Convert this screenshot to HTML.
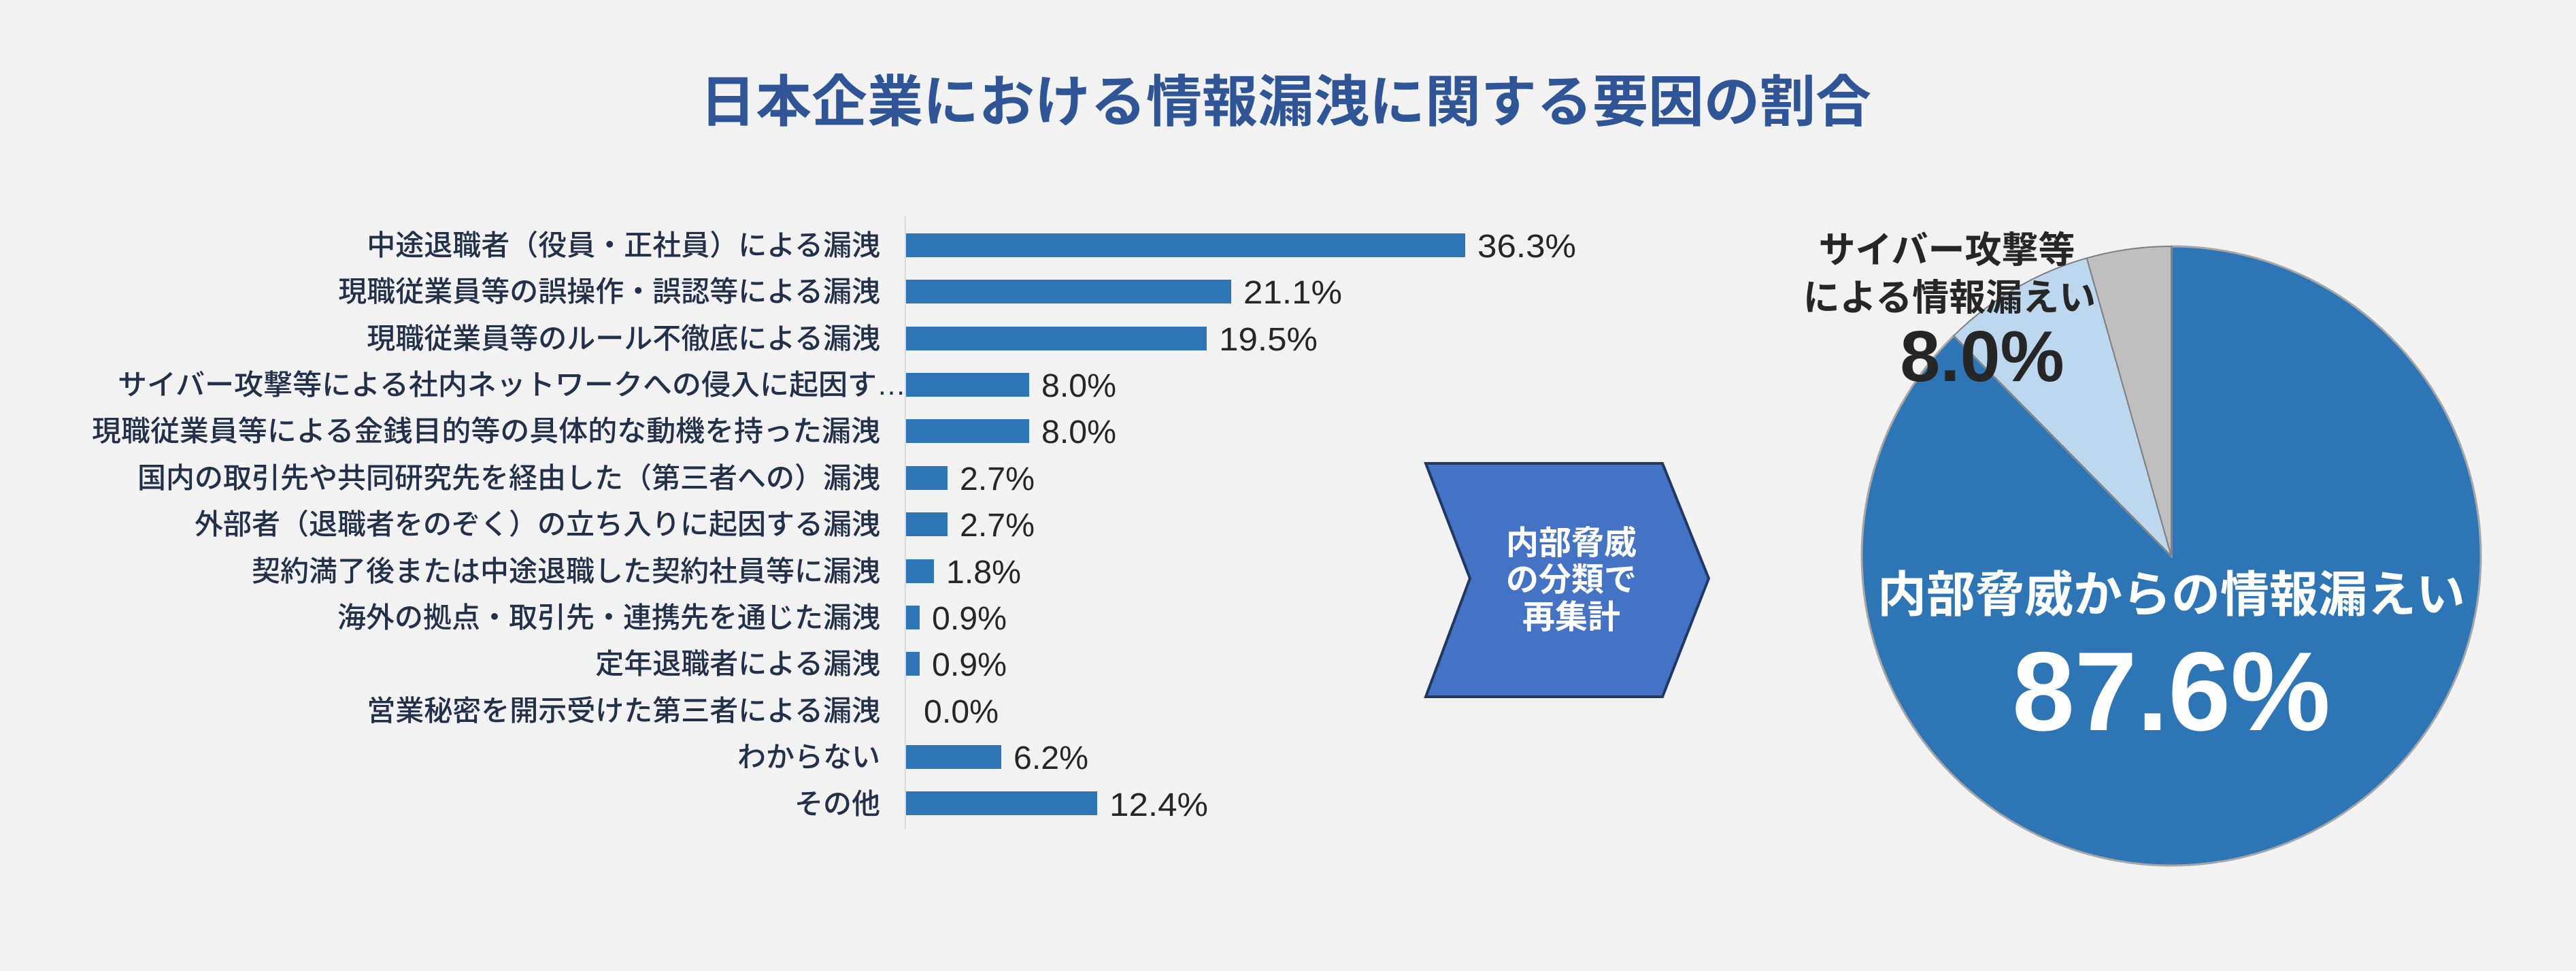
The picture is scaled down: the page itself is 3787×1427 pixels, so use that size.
<!DOCTYPE html>
<html><head><meta charset="utf-8"><style>
html,body{margin:0;padding:0;background:#F2F2F2;}
svg{display:block;}
</style></head><body>
<svg width="3787" height="1427" viewBox="0 0 3787 1427" xmlns="http://www.w3.org/2000/svg" font-family="'Liberation Sans','Noto Sans CJK JP',sans-serif">
<rect width="3787" height="1427" fill="#F2F2F2"/>
<text x="1890" y="178" text-anchor="middle" font-size="82" font-weight="bold" fill="#2F5597">日本企業における情報漏洩に関する要因の割合</text>
<line x1="1331" y1="318" x2="1331" y2="1218" stroke="#D9D9D9" stroke-width="2"/>
<g font-size="42" fill="#22304A" text-anchor="end" font-weight="500">
<text x="1294" y="375">中途退職者（役員・正社員）による漏洩</text>
<text x="1294" y="443">現職従業員等の誤操作・誤認等による漏洩</text>
<text x="1294" y="512">現職従業員等のルール不徹底による漏洩</text>
<text x="1332" y="580" textLength="1159" lengthAdjust="spacingAndGlyphs">サイバー攻撃等による社内ネットワークへの侵入に起因す…</text>
<text x="1294" y="648" textLength="1159" lengthAdjust="spacingAndGlyphs">現職従業員等による金銭目的等の具体的な動機を持った漏洩</text>
<text x="1294" y="717">国内の取引先や共同研究先を経由した（第三者への）漏洩</text>
<text x="1294" y="785">外部者（退職者をのぞく）の立ち入りに起因する漏洩</text>
<text x="1294" y="854">契約満了後または中途退職した契約社員等に漏洩</text>
<text x="1294" y="922">海外の拠点・取引先・連携先を通じた漏洩</text>
<text x="1294" y="990">定年退職者による漏洩</text>
<text x="1294" y="1059">営業秘密を開示受けた第三者による漏洩</text>
<text x="1294" y="1127">わからない</text>
<text x="1294" y="1196">その他</text>
</g>
<g fill="#2E75B6">
<rect x="1332" y="343" width="822" height="35"/>
<rect x="1332" y="411" width="478" height="35"/>
<rect x="1332" y="480" width="442" height="35"/>
<rect x="1332" y="548" width="181" height="35"/>
<rect x="1332" y="616" width="181" height="35"/>
<rect x="1332" y="685" width="61" height="35"/>
<rect x="1332" y="753" width="61" height="35"/>
<rect x="1332" y="822" width="41" height="35"/>
<rect x="1332" y="890" width="20" height="35"/>
<rect x="1332" y="958" width="20" height="35"/>
<rect x="1332" y="1095" width="140" height="35"/>
<rect x="1332" y="1163" width="281" height="35"/>
</g>
<g font-size="48" fill="#262626">
<text x="2172" y="378" textLength="145" lengthAdjust="spacingAndGlyphs">36.3%</text>
<text x="1828" y="446" textLength="145" lengthAdjust="spacingAndGlyphs">21.1%</text>
<text x="1792" y="515" textLength="145" lengthAdjust="spacingAndGlyphs">19.5%</text>
<text x="1531" y="583" textLength="110" lengthAdjust="spacingAndGlyphs">8.0%</text>
<text x="1531" y="651" textLength="110" lengthAdjust="spacingAndGlyphs">8.0%</text>
<text x="1411" y="720" textLength="110" lengthAdjust="spacingAndGlyphs">2.7%</text>
<text x="1411" y="788" textLength="110" lengthAdjust="spacingAndGlyphs">2.7%</text>
<text x="1391" y="857" textLength="110" lengthAdjust="spacingAndGlyphs">1.8%</text>
<text x="1370" y="925" textLength="110" lengthAdjust="spacingAndGlyphs">0.9%</text>
<text x="1370" y="993" textLength="110" lengthAdjust="spacingAndGlyphs">0.9%</text>
<text x="1358" y="1062" textLength="110" lengthAdjust="spacingAndGlyphs">0.0%</text>
<text x="1490" y="1130" textLength="110" lengthAdjust="spacingAndGlyphs">6.2%</text>
<text x="1631" y="1199" textLength="145" lengthAdjust="spacingAndGlyphs">12.4%</text>
</g>
<polygon points="2096,681 2444,681 2512,850 2444,1024 2096,1024 2161,850" fill="#4472C4" stroke="#1F3864" stroke-width="4"/>
<g font-size="48" fill="#FFFFFF" text-anchor="middle" font-weight="bold">
<text x="2310" y="814">内部脅威</text>
<text x="2310" y="868">の分類で</text>
<text x="2310" y="923">再集計</text>
</g>
<path d="M3192,817 L3192,362 A455,455 0 1 1 2872.3,493.3 Z" fill="#2E75B6" stroke="#A6A6A6" stroke-width="3"/>
<path d="M3192,817 L2872.3,493.3 A455,455 0 0 1 3067.8,379.3 Z" fill="#BDD7EE" stroke="#7F7F7F" stroke-width="2"/>
<path d="M3192,817 L3067.8,379.3 A455,455 0 0 1 3192,362 Z" fill="#BFBFBF" stroke="#7F7F7F" stroke-width="2"/>
<g fill="#262626" text-anchor="middle" font-weight="bold">
<text x="2862" y="386" font-size="54">サイバー攻撃等</text>
<text x="2866" y="456" font-size="54">による情報漏えい</text>
<text x="2914" y="560" font-size="106">8.0%</text>
</g>
<g fill="#FFFFFF" text-anchor="middle" font-weight="bold">
<text x="3192" y="899" font-size="72">内部脅威からの情報漏えい</text>
<text x="3192" y="1073" font-size="165">87.6%</text>
</g>
</svg>
</body></html>
